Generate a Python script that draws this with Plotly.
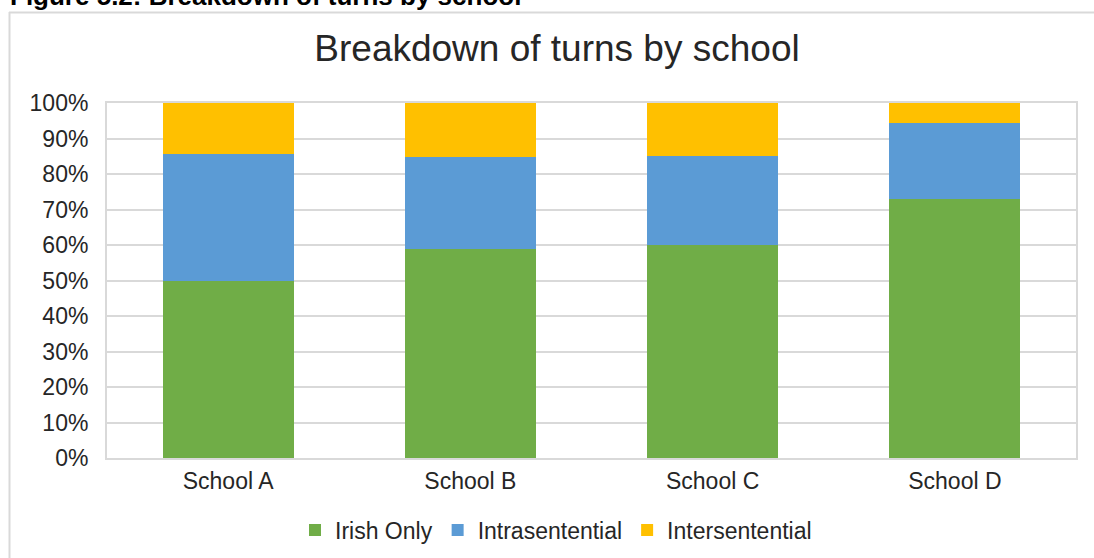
import plotly.graph_objects as go

schools = ["School A", "School B", "School C", "School D"]
irish_only = [50.0, 59.0, 60.0, 73.0]
intrasentential = [35.6, 25.8, 25.1, 21.4]
intersentential = [14.4, 15.2, 14.9, 5.6]
series_names = ["Irish Only", "Intrasentential", "Intersentential"]
colors = ["#70AD47", "#5B9BD5", "#FFC000"]
y_ticks = list(range(0, 101, 10))

W, H = 1094, 558
L, R, T, B = 107, 18, 103, 100
pw, ph = W - L - R, H - T - B

def px(x):
    return (x - L) / pw

def py(y):
    return (H - B - y) / ph

fig = go.Figure()
for name, vals, col in zip(series_names, [irish_only, intrasentential, intersentential], colors):
    fig.add_trace(go.Bar(x=schools, y=vals, name=name, marker=dict(color=col, line=dict(width=0))))

font = "Liberation Sans, Arial, Helvetica, sans-serif"
fig.update_layout(
    width=W, height=H,
    margin=dict(l=L, r=R, t=T, b=B, autoexpand=False),
    barmode="stack", bargap=0.46,
    paper_bgcolor="white", plot_bgcolor="white",
    font=dict(family=font, size=23, color="#262626"),
    title=dict(text="Breakdown of turns by school", x=557 / W, xanchor="center",
               y=1 - 48 / H, yanchor="middle", yref="container",
               font=dict(size=37, color="#262626")),
    xaxis=dict(showgrid=False, showline=True, mirror=True, linecolor="#d9d9d9", linewidth=2,
               ticks="", tickfont=dict(size=23), ticklabelstandoff=1, automargin=False),
    yaxis=dict(range=[0, 100], tickvals=y_ticks, ticktext=[f"{v}%" for v in y_ticks],
               showgrid=True, gridcolor="#d9d9d9", gridwidth=1.5,
               showline=True, mirror=True, linecolor="#d9d9d9", linewidth=2,
               ticks="", ticklen=0, tickfont=dict(size=23), zeroline=False,
               ticklabelstandoff=12, automargin=False),
    legend=dict(orientation="h", x=px(556), xanchor="center", y=py(530), yanchor="middle",
                font=dict(size=23), itemwidth=30, traceorder="normal", itemclick=False),
    showlegend=True,
)

fig.add_annotation(text="<b>Figure 5.2: Breakdown of turns by school</b>", xref="paper", yref="paper",
                   x=px(8), y=py(-4), xanchor="left", yanchor="middle", showarrow=False,
                   font=dict(size=26, color="black"))

fig.add_shape(type="line", xref="paper", yref="paper", x0=px(9), x1=px(1100), y0=py(12.5), y1=py(12.5),
              line=dict(color="#d9d9d9", width=2))
fig.add_shape(type="line", xref="paper", yref="paper", x0=px(9.5), x1=px(9.5), y0=py(12), y1=py(560),
              line=dict(color="#d9d9d9", width=2))

fig.write_html("out.html")
